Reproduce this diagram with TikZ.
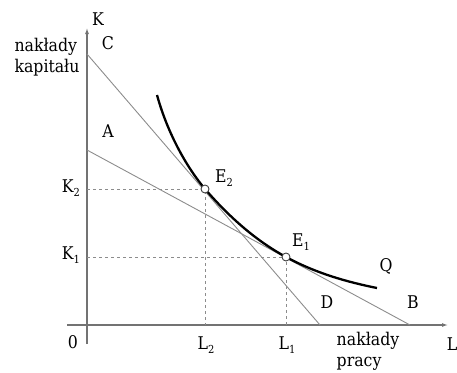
\documentclass[tikz,border=0pt]{standalone}
\usepackage{fontspec}
\setmainfont{DejaVu Serif Condensed}
\usetikzlibrary{arrows.meta}
\newcommand\lsub[1]{\raisebox{-0.45ex}{\fontsize{11}{11}\selectfont #1}}
\begin{document}
\begin{tikzpicture}[x=1pt,y=-1pt,
  lbl/.style={inner sep=0pt,font=\fontsize{17.5}{21}\selectfont},
  axis/.style={draw=black!55,line width=1.1pt,-{Latex[length=6pt,width=4pt]}},
  budget/.style={draw=black!45,line width=0.9pt},
  guide/.style={draw=black!45,line width=0.8pt,dash pattern=on 3pt off 3pt},
  iso/.style={draw=black,line width=2.3pt},
  pt/.style={circle,draw=black!75,fill=white,line width=0.9pt,inner sep=0pt,minimum size=8pt}]
\useasboundingbox (0,0) rectangle (457,372);
% axes
\coordinate (ybot) at (87,344);
\coordinate (ytop) at (87,28);
\coordinate (xl) at (67,325);
\coordinate (xr) at (448,325);
\draw[axis] (ybot) -- (ytop);
\draw[axis] (xl) -- (xr);
% budget lines
\coordinate (Cp) at (87,54);
\coordinate (Dp) at (320,325);
\coordinate (Ap) at (87,150);
\coordinate (Bp) at (410,325);
\draw[budget] (Cp) -- (Dp);
\draw[budget] (Ap) -- (Bp);
% equilibrium points
\coordinate (E2) at (205,189);
\coordinate (E1) at (286,257);
\coordinate (K2a) at (87,189);
\coordinate (K1a) at (87,257);
\coordinate (L2a) at (205,325);
\coordinate (L1a) at (286,325);
\draw[guide] (K2a) -- (E2) -- (L2a);
\draw[guide] (K1a) -- (E1) -- (L1a);
% isoquant
\coordinate (Qs) at (157,95);
\coordinate (Qe) at (377,288);
\draw[iso] (Qs) .. controls (168,135) and (188,169) .. (E2)
  .. controls (232,220.3) and (259,242.4) .. (E1)
  .. controls (316,273.2) and (347,282) .. (Qe);
\node[pt] (e2) at (E2) {};
\node[pt] (e1) at (E1) {};
% labels
\node[lbl] (K) at (98,19) {K};
\node[lbl] (C) at (108,43) {C};
\node[lbl,align=left] (nk) at (47,57) {nakłady\\kapitału};
\node[lbl] (A) at (108,131) {A};
\node[lbl] (K2) at (71,188) {K\lsub{2}};
\node[lbl] (K1) at (71,255) {K\lsub{1}};
\node[lbl] (E2l) at (224,178) {E\lsub{2}};
\node[lbl] (E1l) at (301,242) {E\lsub{1}};
\node[lbl] (Q) at (386,266) {Q};
\node[lbl] (D) at (327,302) {D};
\node[lbl] (B) at (413,302) {B};
\node[lbl] (O) at (73,342) {0};
\node[lbl] (L2) at (206,345) {L\lsub{2}};
\node[lbl] (L1) at (287,345) {L\lsub{1}};
\node[lbl,align=left] (np) at (368,351) {nakłady\\pracy};
\node[lbl] (L) at (452,344) {L};
\end{tikzpicture}
\end{document}
